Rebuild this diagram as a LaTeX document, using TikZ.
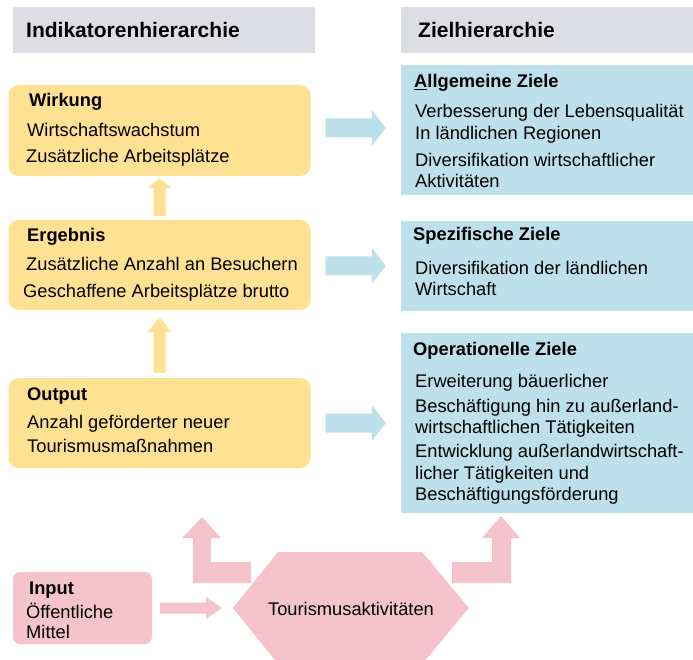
\documentclass[tikz,border=0pt]{standalone}
\usepackage{fontspec}
\setmainfont{Liberation Sans}
\usetikzlibrary{calc}
\definecolor{ylw}{HTML}{FFE194}
\definecolor{blu}{HTML}{BDE0EA}
\definecolor{pnk}{HTML}{F4C3CB}
\definecolor{gry}{HTML}{DDDEE3}
% horizontal block arrow: #1 start, #2 end, #3 start gap, #4 tip gap, #5 head length, #6 shaft half, #7 head half, #8 colour
\newcommand\HArr[8]{%
  \fill[#8] ($(#1)+(#3,-#6)$) -- ($(#2)+(-#4-#5,-#6)$) -- ($(#2)+(-#4-#5,-#7)$) -- ($(#2)+(-#4,0)$)
    -- ($(#2)+(-#4-#5,#7)$) -- ($(#2)+(-#4-#5,#6)$) -- ($(#1)+(#3,#6)$) -- cycle;}
% vertical (upward) block arrow
\newcommand\VArr[8]{%
  \fill[#8] ($(#1)+(-#6,-#3)$) -- ($(#2)+(-#6,#4+#5)$) -- ($(#2)+(-#7,#4+#5)$) -- ($(#2)+(0,#4)$)
    -- ($(#2)+(#7,#4+#5)$) -- ($(#2)+(#6,#4+#5)$) -- ($(#1)+(#6,-#3)$) -- cycle;}
\begin{document}
\begin{tikzpicture}[x=1pt,y=-1pt,
  txt/.style={anchor=base west, inner sep=0pt, font=\fontsize{18.3}{22}\selectfont},
  hd/.style={anchor=base west, inner sep=0pt, font=\fontsize{18.3}{22}\selectfont\bfseries},
  ttl/.style={anchor=base west, inner sep=0pt, font=\fontsize{21}{25}\selectfont\bfseries},
  ybox/.style={fill=ylw, rounded corners=10pt, inner sep=0pt, minimum width=302pt},
  bbox/.style={fill=blu, inner sep=0pt, minimum width=292pt},
  gbox/.style={fill=gry, inner sep=0pt, minimum height=46pt},
]
\useasboundingbox (0,0) rectangle (693,660);

% header boxes
\node[gbox, minimum width=302pt] (hl) at (164,30) {};
\node[gbox, minimum width=292pt] (hr) at (547,30) {};
\node[ttl] (hlt) at (26,38) {Indikatorenhierarchie};
\node[ttl] (hrt) at (418,38) {Zielhierarchie};

% yellow boxes
\node[ybox, minimum height=91pt] (wirk) at (159.5,130.5) {};
\node[ybox, minimum height=90pt] (erg) at (159.5,265) {};
\node[ybox, minimum height=90pt] (out) at (159.5,423) {};

% blue boxes
\node[bbox, minimum height=130pt] (allg) at (547,130) {};
\node[bbox, minimum height=90pt] (spez) at (547,266) {};
\node[bbox, minimum height=180pt] (oper) at (547,423) {};

% input box
\node[fill=pnk, rounded corners=7pt, inner sep=0pt, minimum width=139pt, minimum height=72pt] (inp) at (82.5,608) {};

% hexagon
\coordinate (hexL) at (233,608);
\fill[pnk] (hexL) -- (278,552) -- (422,552) -- (469,608) -- (422,664) -- (278,664) -- cycle;
\node[anchor=base, inner sep=0pt, font=\fontsize{18.3}{22}\selectfont] (tour) at (351,615) {Tourismusaktivitäten};

% texts yellow
\node[hd] (w0) at (29,107) {Wirkung};
\node[txt] (w1) at (27,137) {Wirtschaftswachstum};
\node[txt] (w2) at (26,163) {Zusätzliche Arbeitsplätze};
\node[hd] (e0) at (27,242) {Ergebnis};
\node[txt] (e1) at (26,270) {Zusätzliche Anzahl an Besuchern};
\node[txt] (e2) at (23,297) {Geschaffene Arbeitsplätze brutto};
\node[hd] (o0) at (27,400) {Output};
\node[txt] (o1) at (27,428) {Anzahl geförderter neuer};
\node[txt] (o2) at (27,452) {Tourismusmaßnahmen};

% texts blue
\node[hd] (a0) at (414,87.5) {\underline{A}llgemeine Ziele};
\node[txt] (a1) at (415,118) {Verbesserung der Lebensqualität};
\node[txt] (a2) at (415,140) {In ländlichen Regionen};
\node[txt] (a3) at (415,167) {Diversifikation wirtschaftlicher};
\node[txt] (a4) at (415,188) {Aktivitäten};
\node[hd] (s0) at (413,241) {Spezifische Ziele};
\node[txt] (s1) at (415,274) {Diversifikation der ländlichen};
\node[txt] (s2) at (415,295) {Wirtschaft};
\node[hd] (p0) at (413,355) {Operationelle Ziele};
\node[txt] (p1) at (415,387) {Erweiterung bäuerlicher};
\node[txt] (p2) at (415,412) {Beschäftigung hin zu außerland-};
\node[txt] (p3) at (415,433) {wirtschaftlichen Tätigkeiten};
\node[txt] (p4) at (415,457) {Entwicklung außerlandwirtschaft-};
\node[txt] (p5) at (415,479) {licher Tätigkeiten und};
\node[txt] (p6) at (415,500) {Beschäftigungsförderung};

% input texts
\node[hd] (i0) at (29,594) {Input};
\node[txt] (i1) at (26,618) {Öffentliche};
\node[txt] (i2) at (26,638) {Mittel};

% blue horizontal arrows
\coordinate (b1s) at ($(wirk.east)+(0,-2.5)$);
\coordinate (b1e) at ($(wirk.east -| allg.west)+(0,-2.5)$);
\HArr{b1s}{b1e}{15}{15}{14}{9.5}{18}{blu}
\coordinate (b2s) at ($(erg.east)+(0,1)$);
\coordinate (b2e) at ($(erg.east -| spez.west)+(0,1)$);
\HArr{b2s}{b2e}{15}{15}{14}{9.5}{18}{blu}
\coordinate (b3s) at (out.east);
\coordinate (b3e) at (out.east -| oper.west);
\HArr{b3s}{b3e}{15}{15}{14}{9.5}{18}{blu}

% yellow vertical arrows
\coordinate (y1s) at (erg.north);
\coordinate (y1e) at (erg.north |- wirk.south);
\VArr{y1s}{y1e}{4}{2}{10}{6}{12}{ylw}
\coordinate (y2s) at (out.north);
\coordinate (y2e) at (out.north |- erg.south);
\VArr{y2s}{y2e}{5}{7}{15}{6}{12}{ylw}

% input -> hexagon
\HArr{inp.east}{hexL}{8}{11}{16}{5.5}{11}{pnk}

% pink L-shaped arrows
\fill[pnk] (251,583) -- (193,583) -- (193,538) -- (182,538) -- (202,517) -- (221,538) -- (211,538) -- (211,562) -- (251,562) -- cycle;
\fill[pnk] (452,562) -- (492,562) -- (492,538) -- (482,538) -- (501,516) -- (520,538) -- (511,538) -- (511,583) -- (452,583) -- cycle;
\end{tikzpicture}
\end{document}
